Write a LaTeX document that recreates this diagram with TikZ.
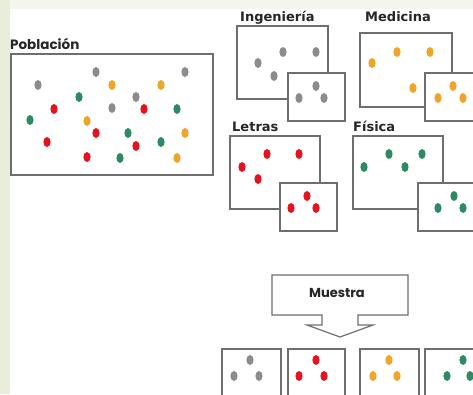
\documentclass[tikz,border=0pt]{standalone}
\usepackage{fontspec}
\usepackage{tikz}
\newfontfamily\rotulo{Poppins}
\newfontfamily\grupo{DejaVu Sans}

\definecolor{gris}{HTML}{8C8C8C}
\definecolor{naranja}{HTML}{F0A528}
\definecolor{rojo}{HTML}{E5131E}
\definecolor{verde}{HTML}{2E8A62}
\definecolor{borde}{HTML}{6E6E6E}
\definecolor{franja}{HTML}{E8EED9}
\definecolor{fondo}{HTML}{F4F6EE}

\tikzset{
	caja/.style={draw=borde, line width=1.2pt, fill=white, inner sep=0pt},
	etiq/.style={anchor=base west, inner sep=0pt, text=black!85, font=\grupo\bfseries\fontsize{13}{13}\selectfont},
}

\begin{document}
\begin{tikzpicture}[x=1pt,y=-1pt]
				\useasboundingbox (0,0) rectangle (473,394);
				\clip (0,0) rectangle (473,394);
				\fill[white] (0,0) rectangle (473,394);
				\fill[fondo] (10,0) rectangle (473,9);
				\fill[franja] (0,0) rectangle (10,394);
				% poblacion
				\node[caja, line width=1.5pt, minimum width=202pt, minimum height=121pt] (pob) at (112,114.5) {};
				\node[anchor=base west, inner sep=0pt, text=black!85, font=\rotulo\bfseries\fontsize{13.5}{13.5}\selectfont] (tpob) at (10,49) {Población};
				\fill[gris] (96,72) ellipse (3.6 and 5);
				\fill[gris] (185,72) ellipse (3.6 and 5);
				\fill[gris] (38,85) ellipse (3.6 and 5);
				\fill[naranja] (112,85) ellipse (3.6 and 5);
				\fill[naranja] (161,85) ellipse (3.6 and 5);
				\fill[verde] (79,97) ellipse (3.6 and 5);
				\fill[gris] (136,97) ellipse (3.6 and 5);
				\fill[rojo] (54,109) ellipse (3.6 and 5);
				\fill[gris] (112,108) ellipse (3.6 and 5);
				\fill[rojo] (144,109) ellipse (3.6 and 5);
				\fill[verde] (177,109) ellipse (3.6 and 5);
				\fill[verde] (30,120) ellipse (3.6 and 5);
				\fill[naranja] (87,121) ellipse (3.6 and 5);
				\fill[rojo] (96,133) ellipse (3.6 and 5);
				\fill[verde] (128,133) ellipse (3.6 and 5);
				\fill[naranja] (185,133) ellipse (3.6 and 5);
				\fill[rojo] (47,142) ellipse (3.6 and 5);
				\fill[rojo] (136,146) ellipse (3.6 and 5);
				\fill[verde] (161,142) ellipse (3.6 and 5);
				\fill[rojo] (87,157) ellipse (3.6 and 5);
				\fill[verde] (120,158) ellipse (3.6 and 5);
				\fill[naranja] (177,158) ellipse (3.6 and 5);
				% ingenieria
				\node[etiq] (ting) at (240,21) {Ingeniería};
				\node[caja, minimum width=91pt, minimum height=73pt] (ing) at (282.5,62.5) {};
				\fill[gris] (258,63) ellipse (3.6 and 5);
				\fill[gris] (283,52) ellipse (3.6 and 5);
				\fill[gris] (316,52) ellipse (3.6 and 5);
				\fill[gris] (274,76) ellipse (3.6 and 5);
				\node[caja, minimum width=57pt, minimum height=48pt] (ingm) at (316.5,97) {};
				\fill[gris] (316,86) ellipse (3.6 and 5);
				\fill[gris] (299,98) ellipse (3.6 and 5);
				\fill[gris] (324,98) ellipse (3.6 and 5);
				% medicina
				\node[etiq] (tmed) at (365,21) {Medicina};
				\node[caja, minimum width=92pt, minimum height=74pt] (med) at (406,70) {};
				\fill[naranja] (372,63) ellipse (3.6 and 5);
				\fill[naranja] (397,52) ellipse (3.6 and 5);
				\fill[naranja] (430,52) ellipse (3.6 and 5);
				\fill[naranja] (413,88) ellipse (3.6 and 5);
				\node[caja, minimum width=57pt, minimum height=48pt] (medm) at (453.5,97) {};
				\fill[naranja] (453,86) ellipse (3.6 and 5);
				\fill[naranja] (438,98) ellipse (3.6 and 5);
				\fill[naranja] (463,98) ellipse (3.6 and 5);
				% letras
				\node[etiq] (tlet) at (232,131) {Letras};
				\node[caja, minimum width=90pt, minimum height=73pt] (let) at (275,172.5) {};
				\fill[rojo] (242,167) ellipse (3.6 and 5);
				\fill[rojo] (267,154) ellipse (3.6 and 5);
				\fill[rojo] (299,154) ellipse (3.6 and 5);
				\fill[rojo] (258,179) ellipse (3.6 and 5);
				\node[caja, minimum width=57pt, minimum height=48pt] (letm) at (308.5,207) {};
				\fill[rojo] (307,196) ellipse (3.6 and 5);
				\fill[rojo] (291,208) ellipse (3.6 and 5);
				\fill[rojo] (316,208) ellipse (3.6 and 5);
				% fisica
				\node[etiq] (tfis) at (353,131) {Física};
				\node[caja, minimum width=90pt, minimum height=73pt] (fis) at (398,172.5) {};
				\fill[verde] (364,167) ellipse (3.6 and 5);
				\fill[verde] (389,154) ellipse (3.6 and 5);
				\fill[verde] (422,154) ellipse (3.6 and 5);
				\fill[verde] (405,167) ellipse (3.6 and 5);
				\node[caja, minimum width=57pt, minimum height=48pt] (fism) at (446.5,207) {};
				\fill[verde] (454,196) ellipse (3.6 and 5);
				\fill[verde] (438,208) ellipse (3.6 and 5);
				\fill[verde] (463,208) ellipse (3.6 and 5);
				% muestra
				\draw[borde, line width=1.2pt, fill=white] (272,275) -- (408,275) -- (408,315) -- (358,315) -- (358,325) -- (373,325) -- (340,337) -- (307,325) -- (322,325) -- (322,315) -- (272,315) -- cycle;
				\node[inner sep=0pt, text=black!85, font=\rotulo\bfseries\fontsize{13}{13}\selectfont] (tmue) at (337,293) {Muestra};
				\node[caja, minimum width=59pt, minimum height=48pt] (m1) at (251.5,373) {};
				\fill[gris] (250,360) ellipse (3.6 and 5);
				\fill[gris] (234,376) ellipse (3.6 and 5);
				\fill[gris] (259,376) ellipse (3.6 and 5);
				\node[caja, minimum width=57pt, minimum height=48pt] (m2) at (316.5,373) {};
				\fill[rojo] (316,360) ellipse (3.6 and 5);
				\fill[rojo] (299,376) ellipse (3.6 and 5);
				\fill[rojo] (324,376) ellipse (3.6 and 5);
				\node[caja, minimum width=59pt, minimum height=48pt] (m3) at (389.5,373) {};
				\fill[naranja] (389,360) ellipse (3.6 and 5);
				\fill[naranja] (373,376) ellipse (3.6 and 5);
				\fill[naranja] (397,376) ellipse (3.6 and 5);
				\node[caja, minimum width=57pt, minimum height=48pt] (m4) at (453.5,373) {};
				\fill[verde] (463,360) ellipse (3.6 and 5);
				\fill[verde] (447,376) ellipse (3.6 and 5);
				\fill[verde] (470,376) ellipse (3.6 and 5);
\end{tikzpicture}
\end{document}
